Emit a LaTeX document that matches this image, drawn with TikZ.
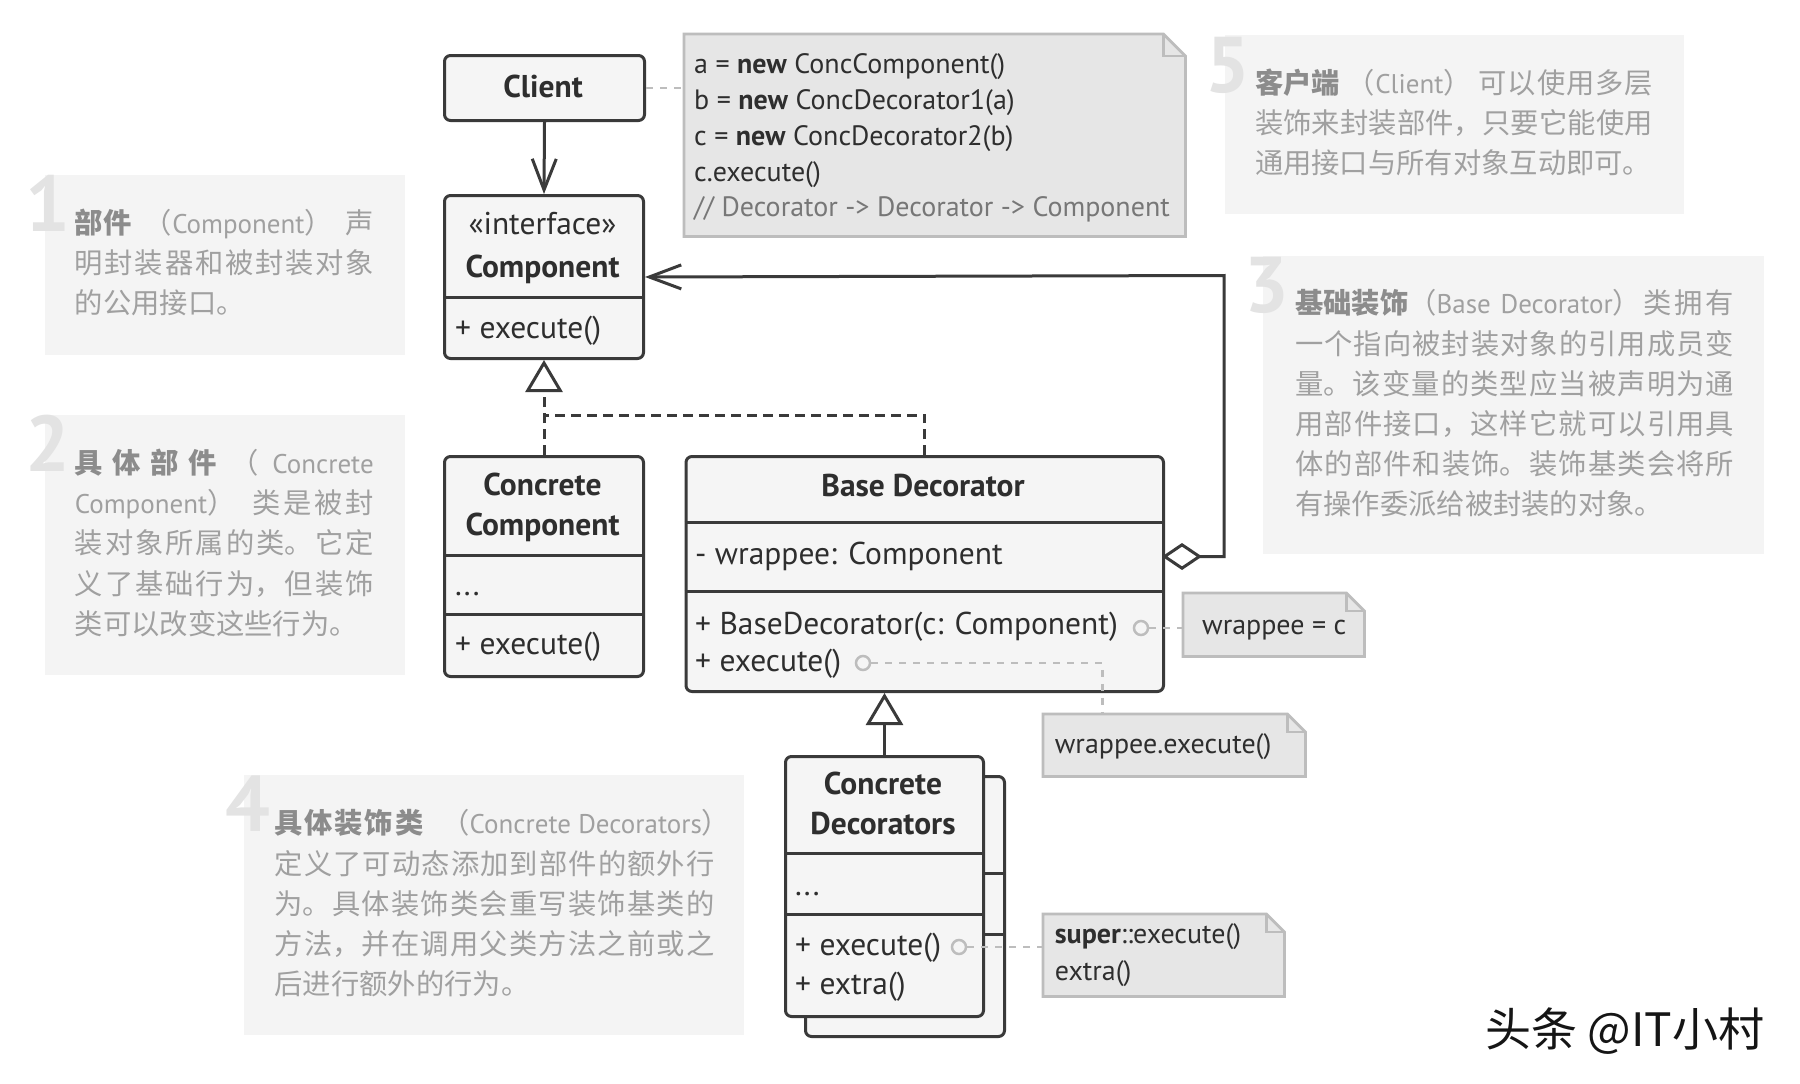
\documentclass[tikz,border=0pt]{standalone}
\usepackage{fontspec}
\setmainfont{PT Sans}
\newfontfamily\cjk{Noto Sans CJK SC}
\newfontfamily\latf{PT Sans}
\usetikzlibrary{arrows.meta}
\XeTeXlinebreaklocale "zh"
\XeTeXlinebreakskip=0pt plus 4pt minus 1.5pt
\tolerance=10000
\hbadness=10000
\hfuzz=30pt
\definecolor{boxdraw}{HTML}{3A3A3A}
\definecolor{boxfill}{HTML}{F5F5F5}
\definecolor{notefill}{HTML}{E6E6E6}
\definecolor{notedraw}{HTML}{BDBDBD}
\definecolor{dotc}{HTML}{BDBDBD}
\definecolor{txt}{HTML}{2E2E2E}
\definecolor{cmt}{HTML}{777777}
\definecolor{pbg}{HTML}{F4F4F4}
\definecolor{ptxt}{HTML}{A0A0A0}
\definecolor{pbold}{HTML}{8C8C8C}
\definecolor{pnumc}{HTML}{E3E3E3}
\definecolor{wmc}{HTML}{151515}
\newcommand\umlf{\fontsize{31.5}{38}\selectfont}
\newcommand\notef{\fontsize{28}{36}\selectfont}
\newcommand\panf{\cjk\fontsize{28.3}{40.2}\selectfont}
\newcommand\kw[1]{\mbox{\color{pbold}\bfseries #1}}
\newcommand\kwsp[1]{{\color{pbold}\bfseries #1}}
\newcommand\lat[1]{{\latf\fontsize{27}{40.2}\selectfont #1}}
\newcommand\notefold[2]{%
  \draw[noteline] (#1.north west) -- ([xshift=-#2]#1.north east) -- ([yshift=-#2]#1.north east) -- (#1.south east) -- (#1.south west) -- cycle;
  \draw[noteline, fill=none] ([xshift=-#2]#1.north east) |- ([yshift=-#2]#1.north east);
}
\begin{document}
\begin{tikzpicture}[x=1pt,y=-1pt,
  umlbox/.style={draw=boxdraw, fill=boxfill, line width=3pt, rounded corners=6pt, inner sep=0pt, anchor=north west},
  divl/.style={draw=boxdraw, line width=3pt},
  ut/.style={inner sep=0pt, text=txt, font=\umlf},
  notebox/.style={inner sep=0pt, anchor=north west},
  noteline/.style={draw=notedraw, fill=notefill, line width=2.8pt, line join=miter},
  nt/.style={inner sep=0pt, text=txt, font=\notef, anchor=base west},
  dotl/.style={draw=dotc, line width=2.8pt, dash pattern=on 7pt off 7pt},
  portc/.style={circle, draw=dotc, fill=boxfill, line width=2.5pt, minimum size=14pt, inner sep=0pt},
  conn/.style={draw=boxdraw, line width=3pt},
  dashc/.style={conn, dash pattern=on 10pt off 6pt},
  panelbg/.style={fill=pbg, draw=none, inner sep=0pt, anchor=north west},
  pnumber/.style={inner sep=0pt, anchor=base west, text=pnumc, font=\bfseries\fontsize{79}{79}\selectfont},
  ptextst/.style={inner sep=0pt, anchor=base west, align=justify, text=ptxt, font=\panf},
]
\useasboundingbox[fill=white] (0,0) rectangle (1800,1084);

% ---------- explanation panels ----------
\node[panelbg, minimum width=359.9pt, minimum height=179.3pt] (p1) at (44.8,175) {};
\node[panelbg, minimum width=359.9pt, minimum height=260pt] (p2) at (44.8,415) {};
\node[panelbg, minimum width=501pt, minimum height=298.5pt] (p3) at (1263,255.5) {};
\node[panelbg, minimum width=499.5pt, minimum height=259.5pt] (p4) at (244,775) {};
\node[panelbg, minimum width=459pt, minimum height=179.5pt] (p5) at (1224.5,34.5) {};

\node[pnumber] (n1) at (25,231.5) {1};
\node[pnumber] (n2) at (25,471.5) {2};
\node[pnumber] (n3) at (1244,312) {3};
\node[pnumber] (n4) at (225,831.5) {4};
\node[pnumber] (n5) at (1205,92.5) {5};

\node[ptextst, text width=299pt] (t1) at (74.6,233.5) {\kw{部件} （\mbox{\lat{Component}}） 声\linebreak 明封装器和被封装对象\linebreak 的公用接口。};
\node[ptextst, text width=299pt] (t2) at (74.6,473.5) {\kwsp{具体部件} （ \lat{Concrete}\linebreak \lat{Component}）\hspace{17pt}类是被封\linebreak 装对象所属的类。它定\linebreak 义了基础行为，但装饰\linebreak 类可以改变这些行为。};
\node[ptextst, text width=439pt] (t3) at (1295,313.8) {\kw{基础装饰}（\lat{Base Decorator}）类拥有\linebreak 一个指向被封装对象的引用成员变\linebreak 量。该变量的类型应当被声明为通\linebreak 用部件接口，这样它就可以引用具\linebreak 体的部件和装饰。装饰基类会将所\linebreak 有操作委派给被封装的对象。};
\node[ptextst, text width=440pt] (t4) at (274.4,833.8) {\kwsp{具体装饰类}\hspace{18pt}（\mbox{\lat{Concrete Decorators}}\makebox[0.45em][l]{）}\linebreak 定义了可动态添加到部件的额外行\linebreak 为。具体装饰类会重写装饰基类的\linebreak 方法，并在调用父类方法之前或之\linebreak 后进行额外的行为。};
\node[ptextst, text width=398pt] (t5) at (1254.8,93.5) {\kw{客户端} （\lat{Client}） 可以使用多层\linebreak 装饰来封装部件，只要它能使用\linebreak 通用接口与所有对象互动即可。};

% ---------- class boxes ----------
\node[umlbox, minimum width=200pt, minimum height=65pt] (client) at (443,54) {};
\node[ut, anchor=base, font=\umlf\bfseries] (clientT) at (543,97) {Client};

\node[umlbox, minimum width=199pt, minimum height=163pt] (comp) at (443,194) {};
\draw[divl] (443,297) -- (642,297);
\node[ut, anchor=base] (compS) at (542.5,234) {«interface»};
\node[ut, anchor=base, font=\umlf\bfseries] (compT) at (542.5,277) {Component};
\node[ut, anchor=base west] (compM) at (455,338) {+ execute()};

\node[umlbox, minimum width=199pt, minimum height=220pt] (cc) at (443,455) {};
\draw[divl] (443,555) -- (642,555);
\draw[divl] (443,614) -- (642,614);
\node[ut, anchor=base, font=\umlf\bfseries] (ccT1) at (542.5,495) {Concrete};
\node[ut, anchor=base, font=\umlf\bfseries] (ccT2) at (542.5,535) {Component};
\node[ut, anchor=base west] (ccA) at (455,595) {...};
\node[ut, anchor=base west] (ccM) at (455,654) {+ execute()};

\node[umlbox, minimum width=477.5pt, minimum height=235pt] (bd) at (684.5,455) {};
\draw[divl] (684.5,522) -- (1162,522);
\draw[divl] (684.5,591) -- (1162,591);
\node[ut, anchor=base, font=\umlf\bfseries] (bdT) at (923,496) {Base Decorator};
\node[ut, anchor=base west] (bdA) at (695,564) {- wrappee: Component};
\node[ut, anchor=base west] (bdM1) at (695,634) {+ BaseDecorator(c: Component)};
\node[ut, anchor=base west] (bdM2) at (695,671) {+ execute()};

\node[umlbox, minimum width=199pt, minimum height=260pt] (cdb) at (804,775) {};
\draw[divl] (804,873) -- (1003,873);
\draw[divl] (804,934) -- (1003,934);
\node[umlbox, minimum width=198pt, minimum height=260pt] (cd) at (784,755) {};
\draw[divl] (784,853) -- (982,853);
\draw[divl] (784,914) -- (982,914);
\node[ut, anchor=base, font=\umlf\bfseries] (cdT1) at (883,794) {Concrete};
\node[ut, anchor=base, font=\umlf\bfseries] (cdT2) at (883,834) {Decorators};
\node[ut, anchor=base west] (cdA) at (795,895) {...};
\node[ut, anchor=base west] (cdM1) at (795,955) {+ execute()};
\node[ut, anchor=base west] (cdM2) at (795,994) {+ extra()};

% ---------- notes ----------
\node[notebox, minimum width=501pt, minimum height=202pt] (code) at (684,34) {};
\notefold{code}{22pt}
\node[nt] (c1) at (694,73.3) {a = \textbf{new} ConcComponent()};
\node[nt] (c2) at (694,109) {b = \textbf{new} ConcDecorator1(a)};
\node[nt] (c3) at (694,145) {c = \textbf{new} ConcDecorator2(b)};
\node[nt] (c4) at (694,181) {c.execute()};
\node[nt, text=cmt] (c5) at (694,216.7) {// Decorator -> Decorator -> Component};

\node[notebox, minimum width=181pt, minimum height=63pt] (wnote) at (1183,593) {};
\notefold{wnote}{18pt}
\node[nt] (wnT) at (1202,634) {wrappee = c};

\node[notebox, minimum width=262pt, minimum height=62pt] (wexec) at (1043,714) {};
\notefold{wexec}{18pt}
\node[nt] (weT) at (1054.7,753) {wrappee.execute()};

\node[notebox, minimum width=241pt, minimum height=82pt] (snote) at (1043,914) {};
\notefold{snote}{18pt}
\node[nt] (snT1) at (1054.7,943) {\textbf{super}::execute()};
\node[nt] (snT2) at (1054.7,980) {extra()};

% ---------- connectors ----------
\draw[dotl] (client.east) -- (code.west |- client.east);
\draw[conn, -{Straight Barb[length=31pt,width=24pt]}] (client.south) -- (comp.north);

\coordinate (join) at (542.5,415);
\draw[dashc, -{Triangle[length=32pt,width=37pt,fill=white]}] (cc.north) -- (comp.south);
\draw[dashc] (bd.north) |- (join);

\draw[conn, -{Triangle[length=32pt,width=37pt,fill=white]}] (cd.north) -- (cd.north |- bd.south);

\coordinate (aggS) at (1162,556.5);
\coordinate (aggC) at (1224,275.5);
\draw[conn, {Diamond[length=40pt,width=27pt,fill=white]}-{Straight Barb[length=32pt,width=24pt]}] (aggS) -| (aggC) -- (comp.east);

\node[portc] (portA) at (1141,628) {};
\node[portc] (portB) at (863,663) {};
\node[portc] (portC) at (959,947) {};
\draw[dotl] (portA.east) -- (wnote.west |- portA.east);
\draw[dotl] (portB.east) -| ([xshift=59.5pt]wexec.north west);
\draw[dotl] (portC.east) -- (snote.west |- portC.east);

% ---------- watermark ----------
\node[anchor=base west, inner sep=0pt, text=wmc, font=\cjk\fontsize{46}{46}\selectfont] (wm) at (1485,1046) {头条 @IT小村};
\end{tikzpicture}
\end{document}
